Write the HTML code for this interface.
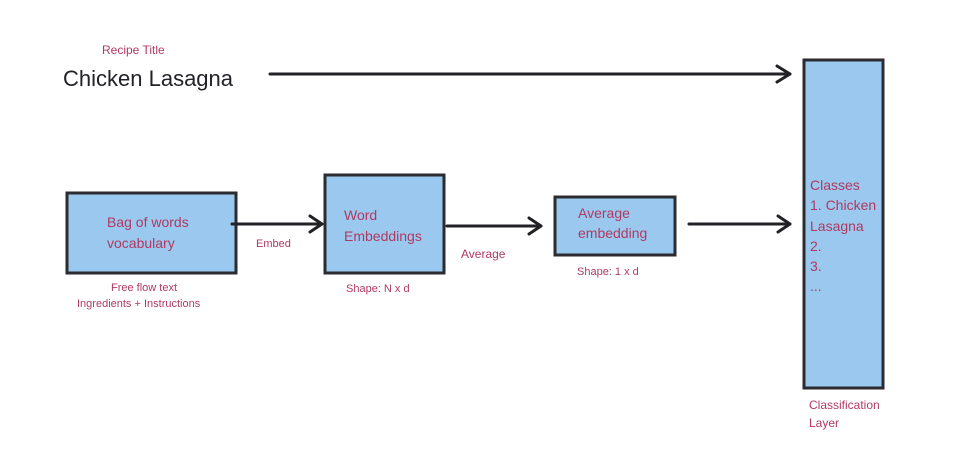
<!DOCTYPE html>
<html><head><meta charset="utf-8"><style>
html,body{margin:0;padding:0;background:#fff;}
svg{display:block;}
text{font-family:"Liberation Sans",sans-serif;}
.p{fill:#b03a62;}
</style></head><body>
<svg width="972" height="466" viewBox="0 0 972 466" xmlns="http://www.w3.org/2000/svg">
<g fill="#9ac8ee" stroke="#2b2b30" stroke-width="3">
<rect x="67" y="193" width="169" height="80"/>
<rect x="325" y="175" width="119" height="98"/>
<rect x="555" y="197" width="120" height="58"/>
<rect x="804" y="60" width="79" height="328"/>
</g>
<g stroke="#222226" stroke-width="3" fill="none" stroke-linecap="round" stroke-linejoin="round">
<line x1="270" y1="74" x2="790" y2="74"/><polyline points="777,66 790,74 777,82"/>
<line x1="232" y1="224" x2="322" y2="224"/><polyline points="310,216 322,224 310,232"/>
<line x1="447" y1="226" x2="541" y2="226"/><polyline points="529,218 541,226 529,234"/>
<line x1="689" y1="224" x2="790" y2="224"/><polyline points="778,216 790,224 778,232"/>
</g>
<text x="102" y="54" font-size="12" class="p">Recipe Title</text>
<text x="63" y="86" font-size="22" fill="#222228">Chicken Lasagna</text>
<text x="107" y="227" font-size="14" class="p">Bag of words</text>
<text x="107" y="248" font-size="14" class="p">vocabulary</text>
<text x="256" y="247" font-size="11" class="p">Embed</text>
<text x="344" y="220" font-size="14" class="p">Word</text>
<text x="344" y="241" font-size="14" class="p">Embeddings</text>
<text x="461" y="258" font-size="12" class="p">Average</text>
<text x="578" y="218" font-size="14" class="p">Average</text>
<text x="578" y="238" font-size="14" class="p">embedding</text>
<text x="577" y="275" font-size="11" class="p">Shape: 1 x d</text>
<text x="346" y="292" font-size="11" class="p">Shape: N x d</text>
<text x="111" y="291" font-size="11" class="p">Free flow text</text>
<text x="77" y="307" font-size="11" class="p">Ingredients + Instructions</text>
<g font-size="14" class="p">
<text x="810" y="190">Classes</text>
<text x="810" y="210">1. Chicken</text>
<text x="810" y="231">Lasagna</text>
<text x="810" y="251">2.</text>
<text x="810" y="271">3.</text>
<text x="810" y="291">...</text>
</g>
<text x="809" y="409" font-size="12" class="p">Classification</text>
<text x="809" y="427" font-size="12" class="p">Layer</text>
</svg>
</body></html>
